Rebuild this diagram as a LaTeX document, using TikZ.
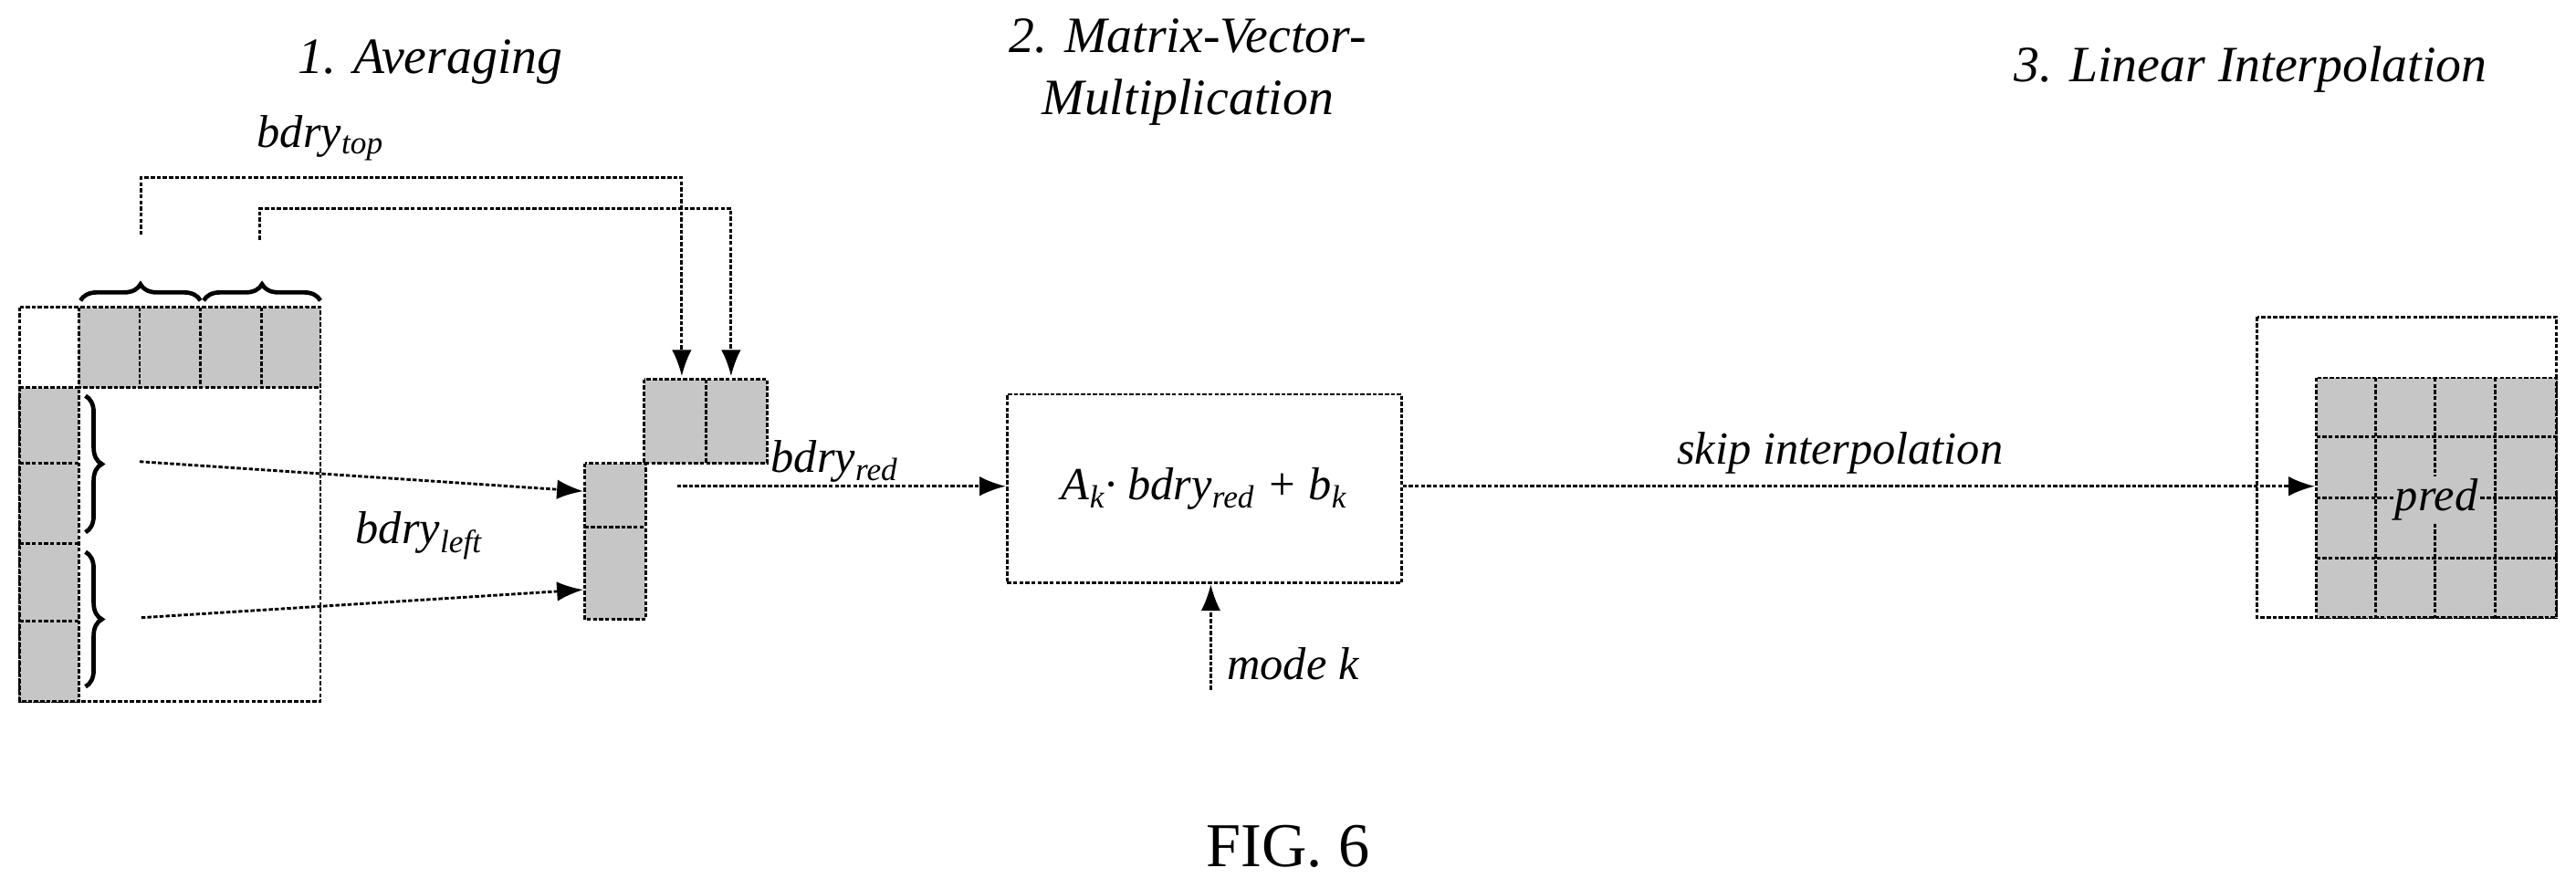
\documentclass[tikz,border=0pt]{standalone}
\usepackage{fontspec}
\setmainfont{Liberation Serif}
\usetikzlibrary{arrows.meta,decorations.pathreplacing}
\begin{document}
\begin{tikzpicture}[x=1pt,y=-1pt,
  ln/.style={line width=1.6pt,dash pattern=on 2.5pt off 1.2pt},
  sh/.style={ln,fill=gray!45},
  arr/.style={ln,-{Latex[length=16pt,width=12pt]}},
  br/.style={decorate,decoration={brace,amplitude=10pt},line width=2.6pt},
  lab/.style={font=\itshape\fontsize{28}{30}\selectfont,inner sep=1pt},
  ttl/.style={font=\itshape\fontsize{31}{38}\selectfont,align=center}]
\useasboundingbox (0,0) rectangle (1568,541);
% titles
\node[ttl] (t1) at (262,38) {1. Averaging};
\node[ttl] (t2) at (723,44) {2. Matrix-Vector-\\Multiplication};
\node[ttl] (t3) at (1370,42) {3. Linear Interpolation};
\node[font=\fontsize{38}{42}\selectfont] (fig) at (784,515) {FIG. 6};
% big grid
\draw[ln] (12,187) rectangle (195,427);
\draw[sh] (48,187) rectangle (195,236);
\foreach \x in {85,122,159} \draw[ln] (\x,187) -- (\x,236);
\draw[sh] (12,236) rectangle (48,427);
\foreach \y in {282,331,378} \draw[ln] (12,\y) -- (48,\y);
% braces
\draw[br] (49,183) -- (122,183);
\draw[br] (124,183) -- (195,183);
\draw[br] (52,241) -- (52,324);
\draw[br] (52,336) -- (52,418);
\coordinate (b1) at (86,143);
\coordinate (b2) at (158,146);
\coordinate (l1) at (85,281);
\coordinate (l2) at (86,376);
% reduced blocks
\draw[sh] (392,231) rectangle (467,282);
\draw[ln] (430,231) -- (430,282);
\draw[sh] (356,282) rectangle (393,377);
\draw[ln] (356,321) -- (393,321);
\coordinate (tA) at (415,229);
\coordinate (tB) at (445,229);
\draw[arr] (b1) -- (86,108) -| (tA);
\draw[arr] (b2) -- (158,127) -| (tB);
\node[lab] (bt) at (195,84) {bdry\textsubscript{top}};
\draw[arr] (l1) -- (355,299);
\draw[arr] (l2) -- (355,359);
\node[lab] (bl) at (255,326) {bdry\textsubscript{left}};
% box
\node[ln,draw,minimum width=240pt,minimum height=115pt,font=\itshape\fontsize{28}{30}\selectfont] (box) at (733,297.5) {A\textsubscript{k}\textperiodcentered\ bdry\textsubscript{red} + b\textsubscript{k}};
\coordinate (r0) at (412,296);
\draw[arr] (r0) -- (box.west |- r0);
\node[lab] (br) at (508,281) {bdry\textsubscript{red}};
\coordinate (m0) at (737,420);
\draw[arr] (m0) -- (box.south -| m0);
\node[lab] (mk) at (787,404) {mode k};
% right
\draw[ln] (1374,193) rectangle (1556,376);
\draw[sh] (1410,230) rectangle (1556,376);
\foreach \x in {1446,1482,1519} \draw[ln] (\x,230) -- (\x,376);
\foreach \y in {266,303,340} \draw[ln] (1410,\y) -- (1556,\y);
\node[lab,fill=gray!45] (pr) at (1483,304) {pred};
\coordinate (p0) at (1409,296);
\draw[arr] (box.east |- p0) -- (p0);
\node[lab] (sk) at (1120,276) {skip interpolation};
\end{tikzpicture}
\end{document}
